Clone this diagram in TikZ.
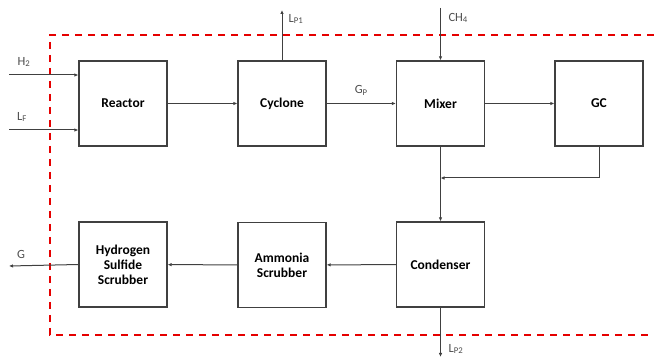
\documentclass[tikz,border=0pt]{standalone}
\usepackage{fontspec}
\setmainfont{Carlito}
\usetikzlibrary{arrows.meta,positioning,calc}

\begin{document}
\begin{tikzpicture}[x=1pt, y=-1pt,
			unit/.style={rectangle, draw=black!75, line width=1.3pt, fill=white, minimum width=88pt, minimum height=85pt, font=\fontsize{13.5}{15}\selectfont\bfseries, align=center, inner sep=2pt},
			stream/.style={font=\fontsize{12.5}{14}\selectfont, text=black!70},
			arrow/.style={-{Latex[length=4pt,width=3.5pt]}, draw=black!75, line width=1pt},
			boundary/.style={red!90!black, line width=1.8pt, dash pattern=on 7pt off 6pt},
			]
			\useasboundingbox (0,0) rectangle (654,358);
			% System boundary
			\draw[boundary] (654,35) -- (50,35) -- (50,335) -- (654,335);
			% Top row
			\node[unit] (reac) at (123,103.5) {Reactor};
			\node[unit] (cycl) at (282,103.5) {Cyclone};
			\node[unit] (mix)  at (440.5,103.5) {Mixer};
			\node[unit] (gc)   at (599,103.5) {GC};
			% Bottom row
			\node[unit] (h2s)  at (123,264.5) {Hydrogen\\Sulfide\\Scrubber};
			\node[unit] (nh3)  at (282,265) {Ammonia\\Scrubber};
			\node[unit] (cond) at (440.5,264.5) {Condenser};
			
			% Free ends of the streams
			\coordinate (h2in) at (9,75);
			\coordinate (lfin) at (9,130);
			\coordinate (lp1) at (282,10);
			\coordinate (ch4) at (440.5,8);
			\coordinate (merge) at (440.5,178);
			\coordinate (lp2) at (440.5,357);
			\coordinate (gout) at (9,266);
			
			% Feeds
			\draw[arrow] (h2in) -- (h2in -| reac.west);
			\draw[arrow] (lfin) -- (lfin -| reac.west);
			\node[stream] (h2lab) at (24,62) {H\textsubscript{2}};
			\node[stream] (lflab) at (22,117) {L\textsubscript{F}};
			\draw[arrow] (ch4) -- (mix.north);
			\node[stream, anchor=west] (ch4lab) at (445,18) {CH\textsubscript{4}};
			
			% Main line
			\draw[arrow] (reac) -- (cycl);
			\draw[arrow] (cycl) -- (mix) node[stream, midway, above=4pt] {G\textsubscript{P}};
			\draw[arrow] (mix) -- (gc);
			\draw[arrow] (cycl.north) -- (lp1);
			\node[stream, anchor=west] (lp1lab) at (285,19) {L\textsubscript{P1}};
			
			% GC return and condenser
			\draw[arrow] (gc.south) |- (merge);
			\draw[arrow] (mix) -- (cond);
			\draw[arrow] (cond.south) -- (lp2);
			\node[stream, anchor=west] (lp2lab) at (445,349) {L\textsubscript{P2}};
			
			% Scrubbers
			\draw[arrow] (cond) -- (nh3);
			\draw[arrow] (nh3) -- (h2s);
			\draw[arrow] (h2s.west) -- (gout);
			\node[stream] (glab) at (21,254) {G};
		\end{tikzpicture}
\end{document}
